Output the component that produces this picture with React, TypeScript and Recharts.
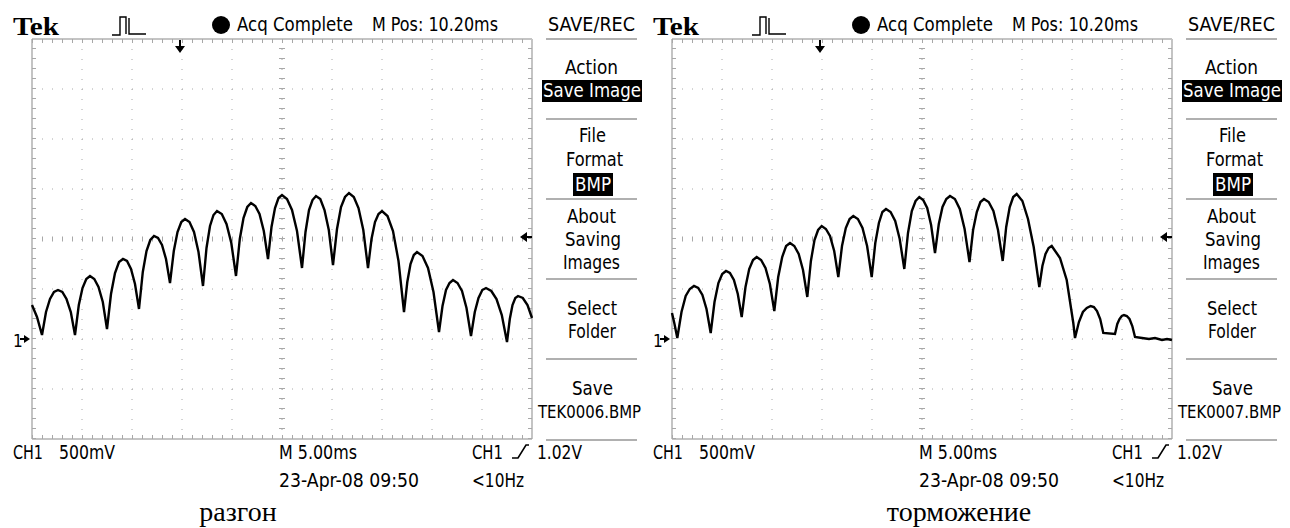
import React from 'react';
import { LineChart, Line, XAxis, YAxis, CartesianGrid, ReferenceLine, ReferenceDot } from 'recharts';

// time axis: 5 ms/div, 10 div; volts axis: 500 mV/div, ground 2 div below centre
const timeTicks = [0, 5, 10, 15, 20, 25, 30, 35, 40, 45, 50];
const voltTicks = [-1, -0.5, 0, 0.5, 1, 1.5, 2, 2.5, 3];

// разгон (TEK0006) – ms
const accelTime = [
  0, 0.5, 1.0, 1.4, 1.8, 2.2, 2.6, 3.03, 3.45, 3.88,
  4.3, 4.68, 5.05, 5.43, 5.8, 6.23, 6.65, 7.08,
  7.5, 7.9, 8.3, 8.7, 9.1, 9.5, 9.9, 10.3,
  10.7, 11.08, 11.45, 11.83, 12.2, 12.6, 13.0, 13.4,
  13.8, 14.18, 14.55, 14.93, 15.3, 15.75, 16.2, 16.65,
  17.1, 17.45, 17.8, 18.15, 18.5, 18.98, 19.45, 19.93,
  20.4, 20.78, 21.15, 21.53, 21.9, 22.33, 22.75, 23.18,
  23.6, 23.95, 24.3, 24.65, 25.0, 25.5, 26.0, 26.5,
  27.0, 27.35, 27.7, 28.05, 28.4, 28.83, 29.25, 29.68,
  30.1, 30.5, 30.9, 31.3, 31.7, 32.18, 32.65, 33.13,
  33.6, 33.95, 34.3, 34.65, 35.0, 35.55, 36.1, 36.65,
  37.2, 37.53, 37.85, 38.18, 38.5, 39.05, 39.6, 40.15,
  40.7, 41.05, 41.4, 41.75, 42.1, 42.55, 43.0, 43.45,
  43.9, 44.28, 44.65, 45.03, 45.4, 45.93, 46.45, 46.98,
  47.5, 47.78, 48.05, 48.33, 48.6, 49.08, 49.55, 50.0,
];
// разгон – volts
const accelVolts = [
  0.34, 0.22, 0.04, 0.27, 0.4, 0.47, 0.49, 0.47, 0.4, 0.27,
  0.04, 0.34, 0.51, 0.6, 0.63, 0.6, 0.52, 0.37,
  0.1, 0.45, 0.66, 0.77, 0.8, 0.78, 0.7, 0.55,
  0.3, 0.67, 0.88, 0.99, 1.03, 1.01, 0.94, 0.8,
  0.56, 0.88, 1.07, 1.17, 1.2, 1.17, 1.07, 0.87,
  0.53, 0.91, 1.13, 1.24, 1.28, 1.25, 1.15, 0.96,
  0.63, 1.0, 1.21, 1.32, 1.36, 1.33, 1.25, 1.08,
  0.8, 1.12, 1.31, 1.41, 1.44, 1.4, 1.29, 1.08,
  0.71, 1.07, 1.29, 1.39, 1.43, 1.4, 1.29, 1.09,
  0.74, 1.1, 1.32, 1.42, 1.46, 1.42, 1.31, 1.09,
  0.71, 1.0, 1.17, 1.25, 1.28, 1.23, 1.08, 0.78,
  0.27, 0.57, 0.75, 0.84, 0.87, 0.83, 0.71, 0.47,
  0.07, 0.33, 0.49, 0.56, 0.59, 0.56, 0.48, 0.31,
  0.03, 0.27, 0.41, 0.49, 0.51, 0.48, 0.4, 0.24,
  -0.03, 0.2, 0.34, 0.41, 0.43, 0.41, 0.34, 0.21,
];

// торможение (TEK0007) – ms
const brakeTime = [
  0, 0.25, 0.53, 0.95, 1.37, 1.78, 2.2, 2.62, 3.04, 3.45,
  3.87, 4.25, 4.64, 5.02, 5.4, 5.79, 6.19, 6.58,
  6.97, 7.35, 7.72, 8.1, 8.47, 8.91, 9.35, 9.79,
  10.23, 10.62, 11.02, 11.41, 11.8, 12.23, 12.67, 13.1,
  13.53, 13.89, 14.25, 14.61, 14.97, 15.39, 15.8, 16.22,
  16.63, 17.0, 17.38, 17.76, 18.13, 18.59, 19.05, 19.51,
  19.97, 20.33, 20.69, 21.04, 21.4, 21.86, 22.32, 22.77,
  23.23, 23.6, 23.98, 24.36, 24.73, 25.12, 25.52, 25.91,
  26.3, 26.68, 27.05, 27.43, 27.8, 28.29, 28.78, 29.26,
  29.75, 30.11, 30.48, 30.84, 31.2, 31.67, 32.14, 32.6,
  33.07, 33.42, 33.77, 34.12, 34.47, 35.04, 35.6, 36.17,
  36.73, 37.04, 37.35, 37.66, 37.97, 38.8, 39.47, 40.13,
  40.3, 40.69, 41.09, 41.48, 41.87, 42.19, 42.5, 42.82,
  43.13, 44.3, 44.53, 44.75, 44.98, 45.2, 45.48, 45.75, 46.03,
  46.3, 47.0, 47.7, 48.3, 49.0, 49.5, 50.0,
];
// торможение – volts
const brakeVolts = [
  0.26, 0.15, 0.01, 0.27, 0.43, 0.5, 0.53, 0.51, 0.44, 0.3,
  0.06, 0.37, 0.56, 0.65, 0.68, 0.66, 0.59, 0.45,
  0.22, 0.52, 0.7, 0.79, 0.82, 0.79, 0.71, 0.55,
  0.28, 0.62, 0.82, 0.93, 0.96, 0.93, 0.85, 0.69,
  0.42, 0.78, 0.99, 1.09, 1.13, 1.1, 1.03, 0.88,
  0.62, 0.93, 1.11, 1.2, 1.23, 1.2, 1.11, 0.93,
  0.62, 0.96, 1.16, 1.27, 1.3, 1.27, 1.18, 1.0,
  0.7, 1.06, 1.28, 1.38, 1.42, 1.39, 1.31, 1.14,
  0.86, 1.15, 1.32, 1.4, 1.43, 1.4, 1.3, 1.1,
  0.77, 1.09, 1.27, 1.37, 1.4, 1.37, 1.28, 1.09,
  0.78, 1.12, 1.32, 1.42, 1.45, 1.38, 1.2, 0.92,
  0.52, 0.73, 0.85, 0.91, 0.93, 0.81, 0.59, 0.16,
  0.01, 0.17, 0.27, 0.31, 0.33, 0.32, 0.28, 0.2,
  0.06, 0.05, 0.15, 0.2, 0.23, 0.24, 0.23, 0.2, 0.13,
  0.02, 0.01, 0.0, 0.01, -0.01, 0.0, -0.01,
];

const TRIG_LEVEL = 1.02;
const TRIG_POS = 14.8;

const accelData = accelTime.map((t, i) => ({ t, v: accelVolts[i] }));
const brakeData = brakeTime.map((t, i) => ({ t, v: brakeVolts[i] }));

const SCOPE_FONT = "'Liberation Sans Narrow', 'DejaVu Sans Condensed', 'Liberation Sans', sans-serif";
const GRID = '#a8a8a8';

const GroundMark = ({ cx, cy }: any) => (
  <g>
    <text x={cx - 19} y={cy + 8} fontSize={17} fontFamily={SCOPE_FONT} fill="#000">1</text>
    <path d={`M${cx - 8} ${cy - 1} h-4 v2 h4 z M${cx - 8} ${cy - 4} L${cx - 2} ${cy} L${cx - 8} ${cy + 4} z`} fill="#000" />
  </g>
);

const LevelMark = ({ cx, cy }: any) => (
  <path d={`M${cx - 12} ${cy} L${cx - 5} ${cy - 5} L${cx - 5} ${cy + 5} z M${cx - 6} ${cy - 1} h6 v2 h-6 z`} fill="#000" />
);

const PosMark = ({ cx, cy }: any) => (
  <path d={`M${cx - 1} ${cy + 1} h2 v7 h-2 z M${cx - 5} ${cy + 7} h10 L${cx} ${cy + 14} z`} fill="#000" />
);

const T = ({ x, y, w, children, fill = '#000', size = 19 }: any) => (
  <text x={x} y={y} textLength={w} lengthAdjust="spacingAndGlyphs" fontSize={size} fontFamily={SCOPE_FONT} fill={fill}>
    {children}
  </text>
);

const Panel = ({ left, data, fileName, caption, captionX }: any) => {
  const menuLines = [39, 119, 199, 279, 359, 440];
  return (
    <div style={{ position: 'absolute', left, top: 0, width: 640, height: 528 }}>
      <LineChart width={640} height={528} data={data} margin={{ top: 39, right: 108, bottom: 89, left: 32 }}>
        <XAxis type="number" dataKey="t" domain={[0, 50]} ticks={timeTicks} hide />
        <YAxis type="number" domain={[-1, 3]} ticks={voltTicks} hide />
        <CartesianGrid stroke={GRID} strokeDasharray="1 9" />
        {/* centre lines */}
        <ReferenceLine y={1} stroke={GRID} strokeWidth={5} strokeDasharray="1 9" />
        <ReferenceLine x={25} stroke={GRID} strokeWidth={6} strokeDasharray="1 9" />
        {/* frame with minor ticks */}
        <ReferenceLine y={3} stroke="#c4c4c4" strokeWidth={2} />
        <ReferenceLine y={-1} stroke="#c4c4c4" strokeWidth={2} />
        <ReferenceLine x={0} stroke="#c4c4c4" strokeWidth={2} />
        <ReferenceLine x={50} stroke="#c4c4c4" strokeWidth={2} />
        <ReferenceLine y={2.98} stroke={GRID} strokeWidth={4} strokeDasharray="1 9" />
        <ReferenceLine y={-0.98} stroke={GRID} strokeWidth={4} strokeDasharray="1 9" />
        <ReferenceLine x={0.2} stroke={GRID} strokeWidth={4} strokeDasharray="1 9" />
        <ReferenceLine x={49.8} stroke={GRID} strokeWidth={4} strokeDasharray="1 9" />
        <Line type="linear" dataKey="v" stroke="#000" strokeWidth={2.4} dot={false} isAnimationActive={false} />
        <ReferenceDot x={0} y={0} shape={GroundMark} />
        <ReferenceDot x={50} y={TRIG_LEVEL} shape={LevelMark} />
        <ReferenceDot x={TRIG_POS} y={3} shape={PosMark} />
      </LineChart>
      <svg width={650} height={528} style={{ position: 'absolute', left: 0, top: 0, pointerEvents: 'none', overflow: 'visible' }}>
        <text x={13} y={35} textLength={46} lengthAdjust="spacingAndGlyphs" fontSize={25} fontWeight="bold"
          fontFamily="'Liberation Serif', 'DejaVu Serif', serif">Tek</text>
        <path d="M112 35 H120 V17 H126 V34 M129 18 V34 H146" stroke="#000" strokeWidth={1.4} fill="none" />
        <circle cx={221} cy={25} r={9} fill="#000" />
        <T x={237} y={31} w={116}>Acq Complete</T>
        <T x={372} y={31} w={126}>M Pos: 10.20ms</T>
        <T x={548} y={31} w={87}>SAVE/REC</T>
        {menuLines.map((y) => (
          <line key={y} x1={546} x2={637} y1={y} y2={y} stroke="#b0b0b0" strokeWidth={2} />
        ))}
        <T x={565} y={74} w={53}>Action</T>
        <rect x={542} y={80} width={100} height={22} fill="#000" />
        <T x={543} y={97} w={98} fill="#fff">Save Image</T>
        <T x={579} y={142} w={27}>File</T>
        <T x={566} y={166} w={57}>Format</T>
        <rect x={573} y={173} width={40} height={23} fill="#000" />
        <T x={575} y={191} w={36} fill="#fff">BMP</T>
        <T x={567} y={223} w={49}>About</T>
        <T x={565} y={246} w={56}>Saving</T>
        <T x={563} y={269} w={57}>Images</T>
        <T x={567} y={315} w={50}>Select</T>
        <T x={568} y={338} w={48}>Folder</T>
        <T x={572} y={395} w={41}>Save</T>
        <T x={538} y={418} w={103} size={17}>{fileName}</T>
        <T x={13} y={459} w={30} size={20}>CH1</T>
        <T x={59} y={459} w={56} size={20}>500mV</T>
        <T x={279} y={459} w={78} size={20}>M 5.00ms</T>
        <T x={472} y={459} w={31} size={20}>CH1</T>
        <path d="M512 458 H518 L526 445 H529" stroke="#000" strokeWidth={1.6} fill="none" />
        <T x={537} y={459} w={45} size={20}>1.02V</T>
        <T x={279} y={487} w={140} size={20}>23-Apr-08 09:50</T>
        <T x={472} y={487} w={52} size={20}>&lt;10Hz</T>
        <text x={captionX} y={521} textAnchor="middle" fontSize={28} fontFamily="'Liberation Serif', 'Times New Roman', serif" fill="#000">
          {caption}
        </text>
      </svg>
    </div>
  );
}

export default function App() {
  return (
    <div style={{ position: 'absolute', left: 0, top: 0, width: 1290, height: 528, background: '#fff', overflow: 'hidden' }}>
      <Panel left={0} data={accelData} fileName="TEK0006.BMP" caption="разгон" captionX={238} />
      <Panel left={640} data={brakeData} fileName="TEK0007.BMP" caption="торможение" captionX={319} />
    </div>
  );
}
